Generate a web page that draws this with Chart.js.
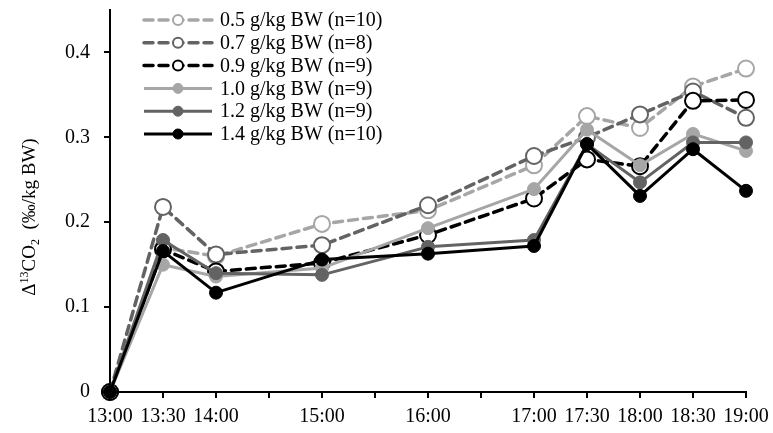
<!DOCTYPE html>
<html>
<head>
<meta charset="utf-8">
<script src="https://cdn.jsdelivr.net/npm/chart.js@4"></script>
<style>
  html, body { margin: 0; padding: 0; background: #fff; }
  #wrap { width: 773px; height: 433px; position: relative; }
</style>
</head>
<body>
<div id="wrap"><canvas id="chart"></canvas></div>
<script>
// Horas de muestreo (categorías) y series
const times = ['13:00', '13:30', '14:00', '15:00', '16:00', '17:00', '17:30', '18:00', '18:30', '19:00'];
const seriesLabels = [
  '0.5 g/kg BW (n=10)',
  '0.7 g/kg BW (n=8)',
  '0.9 g/kg BW (n=9)',
  '1.0 g/kg BW (n=9)',
  '1.2 g/kg BW (n=9)',
  '1.4 g/kg BW (n=10)'
];
const dose05 = [0, 0.170, 0.160, 0.198, 0.214, 0.267, 0.325, 0.311, 0.360, 0.381];
const dose07 = [0, 0.218, 0.162, 0.173, 0.220, 0.278, 0.300, 0.327, 0.354, 0.323];
const dose09 = [0, 0.168, 0.142, 0.152, 0.185, 0.228, 0.274, 0.266, 0.343, 0.344];
const dose10 = [0, 0.150, 0.136, 0.146, 0.193, 0.239, 0.309, 0.267, 0.304, 0.284];
const dose12 = [0, 0.179, 0.140, 0.138, 0.171, 0.179, 0.292, 0.247, 0.294, 0.294];
const dose14 = [0, 0.166, 0.117, 0.156, 0.163, 0.172, 0.292, 0.231, 0.286, 0.237];
const yTicks = [0, 0.1, 0.2, 0.3, 0.4];

const LIGHT = '#a6a6a6';
const DARK = '#636363';
const BLACK = '#000000';
const FONT = '"Liberation Serif", "Times New Roman", serif';

// minutos desde las 13:00
const toMin = (t) => {
  const [h, m] = t.split(':').map(Number);
  return (h - 13) * 60 + m;
};
const fmtMin = (v) => {
  const h = 13 + Math.floor(v / 60);
  const m = v % 60;
  return h + ':' + (m < 10 ? '0' + m : m);
};

const makeSet = (i, values, color, dashed) => ({
  label: seriesLabels[i],
  data: values.map((v, k) => ({ x: toMin(times[k]), y: v })),
  borderColor: color,
  borderWidth: dashed ? 3.5 : 3,
  borderDash: dashed ? [9, 6] : [],
  borderCapStyle: dashed ? 'round' : 'butt',
  borderJoinStyle: 'round',
  pointRadius: dashed ? 8 : 6.5,
  pointBorderWidth: dashed ? 2 : 1,
  pointBorderColor: color,
  pointBackgroundColor: dashed ? '#ffffff' : color,
  pointHoverRadius: dashed ? 8 : 6.5,
  tension: 0,
  clip: false,
  order: 5 - i,
  isDashed: dashed
});

const datasets = [
  makeSet(0, dose05, LIGHT, true),
  makeSet(1, dose07, DARK, true),
  makeSet(2, dose09, BLACK, true),
  makeSet(3, dose10, LIGHT, false),
  makeSet(4, dose12, DARK, false),
  makeSet(5, dose14, BLACK, false)
];

// Leyenda dibujada a mano (línea + marcador + texto)
const legendPlugin = {
  id: 'customLegend',
  afterDraw(chart) {
    const ctx = chart.ctx;
    ctx.save();
    chart.data.datasets.forEach((ds, i) => {
      const y = 20 + i * 22.8;
      ctx.strokeStyle = ds.borderColor;
      ctx.lineWidth = ds.borderWidth;
      ctx.lineCap = ds.borderCapStyle;
      ctx.setLineDash(ds.borderDash);
      ctx.beginPath();
      ctx.moveTo(144, y);
      ctx.lineTo(212, y);
      ctx.stroke();
      ctx.setLineDash([]);
      ctx.beginPath();
      ctx.arc(178, y, 5, 0, Math.PI * 2);
      ctx.fillStyle = ds.pointBackgroundColor;
      ctx.fill();
      ctx.lineWidth = ds.isDashed ? 2 : 1;
      ctx.strokeStyle = ds.pointBorderColor;
      ctx.stroke();
      ctx.fillStyle = '#000';
      ctx.font = '20px ' + FONT;
      ctx.textBaseline = 'middle';
      ctx.textAlign = 'left';
      ctx.fillText(ds.label, 220, y + 1);
    });
    ctx.restore();
  }
};

// Título del eje Y con superíndice y subíndice
const yTitlePlugin = {
  id: 'yTitle',
  afterDraw(chart) {
    const ctx = chart.ctx;
    const parts = [
      ['Δ', 19, 0],
      ['13', 12, -7],
      ['CO', 19, 0],
      ['2', 12, 4],
      ['  (‰/kg BW)', 19, 0]
    ];
    ctx.save();
    ctx.translate(28, 217);
    ctx.rotate(-Math.PI / 2);
    ctx.fillStyle = '#000';
    ctx.textBaseline = 'alphabetic';
    let total = 0;
    parts.forEach(p => {
      ctx.font = p[1] + 'px ' + FONT;
      total += ctx.measureText(p[0]).width;
    });
    let x = -total / 2;
    parts.forEach(p => {
      ctx.font = p[1] + 'px ' + FONT;
      ctx.fillText(p[0], x, 7 + p[2]);
      x += ctx.measureText(p[0]).width;
    });
    ctx.restore();
  }
};

new Chart(document.getElementById('chart'), {
  type: 'line',
  data: { datasets },
  plugins: [legendPlugin, yTitlePlugin],
  options: {
    responsive: true,
    maintainAspectRatio: false,
    animation: false,
    devicePixelRatio: 1,
    layout: { padding: { top: 6, right: 27, left: 0, bottom: 0 } },
    plugins: {
      legend: { display: false },
      tooltip: { enabled: false }
    },
    scales: {
      x: {
        type: 'linear',
        min: 0,
        max: 360,
        afterFit: (s) => { s.height = 41; s.paddingLeft = 0; s.paddingRight = 0; },
        border: { display: true, color: '#000', width: 2 },
        grid: { drawOnChartArea: false, drawTicks: true, tickLength: 6, color: '#000', lineWidth: 2 },
        ticks: {
          stepSize: 30,
          padding: 7,
          color: '#000',
          maxRotation: 0,
          autoSkip: false,
          font: { family: FONT, size: 20 },
          callback: (v) => times.includes(fmtMin(v)) ? fmtMin(v) : ''
        }
      },
      y: {
        min: 0,
        max: 0.45,
        afterFit: (s) => { s.width = 110; s.paddingTop = 0; s.paddingBottom = 0; },
        afterBuildTicks: (s) => { s.ticks = yTicks.map(v => ({ value: v })); },
        border: { display: true, color: '#000', width: 2 },
        grid: { drawOnChartArea: false, drawTicks: true, tickLength: 6, color: '#000', lineWidth: 2 },
        ticks: {
          padding: 14,
          color: '#000',
          font: { family: FONT, size: 20 },
          callback: (v) => v === 0 ? '0' : v.toFixed(1)
        }
      }
    }
  }
});
</script>
</body>
</html>
